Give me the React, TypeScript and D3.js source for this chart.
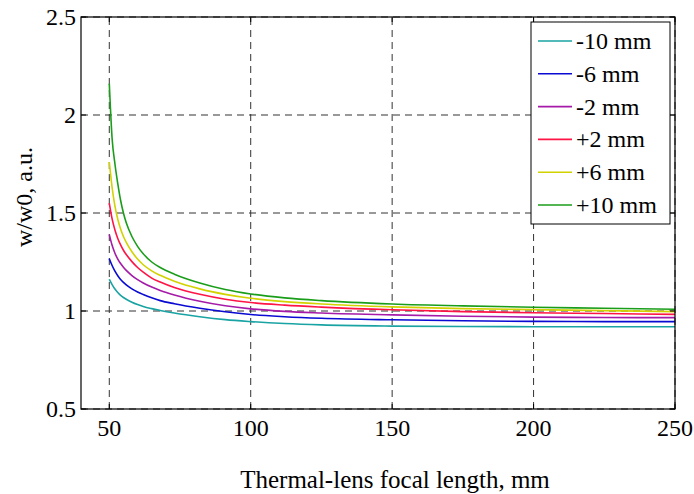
import React from "react";
import * as d3 from "d3";

// focal length samples (mm)
const focal = [50, 51, 52, 53, 54, 55, 56, 58, 60, 62, 65, 68, 73, 82, 91, 100, 112, 125, 150, 175, 200, 225, 250];

const seriesNames = ["-10 mm", "-6 mm", "-2 mm", "+2 mm", "+6 mm", "+10 mm"];
const seriesColors = ["#1aa3a3", "#0a0ad2", "#a51aa8", "#ff1446", "#d2d200", "#1a9e1a"];

const m10 = [1.162, 1.135, 1.112, 1.094, 1.08, 1.069, 1.06, 1.045, 1.033, 1.023, 1.012, 1.003, 0.99, 0.971, 0.956, 0.946, 0.936, 0.929, 0.923, 0.921, 0.92, 0.92, 0.92];
const m6 = [1.267, 1.232, 1.203, 1.18, 1.161, 1.146, 1.133, 1.113, 1.097, 1.084, 1.067, 1.053, 1.037, 1.014, 0.996, 0.982, 0.971, 0.963, 0.955, 0.95, 0.947, 0.946, 0.946];
const m2 = [1.39, 1.335, 1.295, 1.265, 1.242, 1.223, 1.207, 1.181, 1.16, 1.143, 1.122, 1.105, 1.082, 1.05, 1.027, 1.011, 0.998, 0.99, 0.98, 0.973, 0.969, 0.967, 0.966];
const p2 = [1.55, 1.47, 1.413, 1.37, 1.337, 1.31, 1.288, 1.252, 1.222, 1.198, 1.168, 1.148, 1.12, 1.085, 1.06, 1.043, 1.03, 1.02, 1.006, 0.997, 0.991, 0.987, 0.983];
const p6 = [1.76, 1.63, 1.535, 1.468, 1.418, 1.38, 1.35, 1.302, 1.265, 1.236, 1.205, 1.182, 1.152, 1.113, 1.085, 1.065, 1.048, 1.036, 1.021, 1.012, 1.007, 1.002, 0.997];
const p10 = [2.16, 1.88, 1.75, 1.65, 1.565, 1.5, 1.45, 1.38, 1.33, 1.292, 1.25, 1.222, 1.188, 1.143, 1.11, 1.087, 1.067, 1.053, 1.036, 1.026, 1.019, 1.014, 1.009];

const xTicks = [50, 100, 150, 200, 250];
const yTicks = [0.5, 1, 1.5, 2, 2.5];

const W = 694;
const H = 494;
const margin = { left: 81, right: 19, top: 17, bottom: 85 };
const font = "'Liberation Serif', 'Times New Roman', serif";

export default function App() {
  const series = [m10, m6, m2, p2, p6, p10];

  const x = d3.scaleLinear().domain([40, 250]).range([margin.left, W - margin.right]);
  const y = d3.scaleLinear().domain([0.5, 2.5]).range([H - margin.bottom, margin.top]);

  const line = d3
    .line<number>()
    .x((d, i) => x(focal[i]))
    .y((d) => y(d))
    .curve(d3.curveMonotoneX);

  const x0 = x.range()[0], x1 = x.range()[1];
  const y0 = y.range()[0], y1 = y.range()[1];
  const tick = 5;

  // legend placement
  const lg = { x: 531, y: 22, w: 139, h: 202 };

  return (
    <svg width={W} height={H} style={{ position: "absolute", left: 0, top: 0, background: "#fff" }} fontFamily={font}>
      {/* grid */}
      {xTicks.map((t) => (
        <line key={"gx" + t} x1={x(t)} x2={x(t)} y1={y0} y2={y1} stroke="#333" strokeWidth={1} strokeDasharray="7,5" />
      ))}
      {yTicks.map((t) => (
        <line key={"gy" + t} x1={x0} x2={x1} y1={y(t)} y2={y(t)} stroke="#333" strokeWidth={1} strokeDasharray="7,5" />
      ))}

      {/* curves */}
      {series.map((s, i) => (
        <path key={seriesNames[i]} d={line(s) || ""} fill="none" stroke={seriesColors[i]} strokeWidth={1.6} />
      ))}

      {/* box + ticks */}
      <rect x={x0} y={y1} width={x1 - x0} height={y0 - y1} fill="none" stroke="#000" strokeWidth={1.2} />
      {xTicks.map((t) => (
        <g key={"tx" + t}>
          <line x1={x(t)} x2={x(t)} y1={y0} y2={y0 - tick} stroke="#000" />
          <line x1={x(t)} x2={x(t)} y1={y1} y2={y1 + tick} stroke="#000" />
          <text x={x(t)} y={436} textAnchor="middle" fontSize={24}>
            {t}
          </text>
        </g>
      ))}
      {yTicks.map((t) => (
        <g key={"ty" + t}>
          <line x1={x0} x2={x0 + tick} y1={y(t)} y2={y(t)} stroke="#000" />
          <line x1={x1} x2={x1 - tick} y1={y(t)} y2={y(t)} stroke="#000" />
          <text x={76} y={y(t) + 8} textAnchor="end" fontSize={24}>
            {t}
          </text>
        </g>
      ))}

      {/* axis titles */}
      <text x={395} y={488} textAnchor="middle" fontSize={25}>
        Thermal-lens focal length, mm
      </text>
      <text transform={`translate(32, 197) rotate(-90)`} textAnchor="middle" fontSize={24}>
        w/w0, a.u.
      </text>

      {/* legend */}
      <rect x={lg.x} y={lg.y} width={lg.w} height={lg.h} fill="#fff" stroke="#000" strokeWidth={1} />
      {seriesNames.map((n, i) => {
        const yy = lg.y + 19 + i * 32.8;
        return (
          <g key={"lg" + n}>
            <line x1={538} x2={572} y1={yy} y2={yy} stroke={seriesColors[i]} strokeWidth={1.6} />
            <text x={576} y={yy + 8} fontSize={24}>
              {n}
            </text>
          </g>
        );
      })}
    </svg>
  );
}
